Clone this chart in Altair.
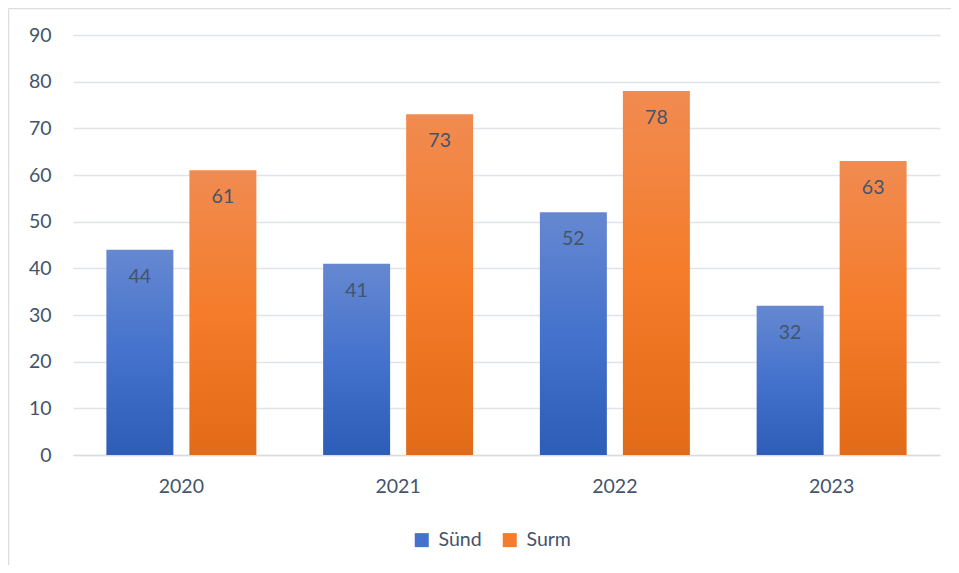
import altair as alt
import pandas as pd

years = ["2020", "2021", "2022", "2023"]
series = ["Sünd", "Surm"]
sund = [44, 41, 52, 32]
surm = [61, 73, 78, 63]
y_ticks = [0, 10, 20, 30, 40, 50, 60, 70, 80, 90]

rows = []
for i, yr in enumerate(years):
    rows.append({"year": yr, "series": "Sünd", "value": sund[i]})
    rows.append({"year": yr, "series": "Surm", "value": surm[i]})
df = pd.DataFrame(rows)

FONT = "Lato"
TXT = "#44546A"
FS = 19.5

blue_grad = alt.Gradient(
    gradient="linear", x1=0, y1=0, x2=0, y2=1,
    stops=[alt.GradientStop(offset=0, color="#6688D1"),
           alt.GradientStop(offset=0.5, color="#4472CC"),
           alt.GradientStop(offset=1, color="#2D5DB8")])
orange_grad = alt.Gradient(
    gradient="linear", x1=0, y1=0, x2=0, y2=1,
    stops=[alt.GradientStop(offset=0, color="#F18B51"),
           alt.GradientStop(offset=0.5, color="#F47C2A"),
           alt.GradientStop(offset=1, color="#E26B17")])

x_enc = alt.X("year:N", sort=years, title=None,
              scale=alt.Scale(paddingInner=0.308, paddingOuter=0.154),
              axis=alt.Axis(labelAngle=0, ticks=False, domain=True,
                            domainColor="#D9DDE3", domainWidth=1.5,
                            labelPadding=22, labelFontSize=FS,
                            labelFont=FONT, labelColor=TXT))
xoff_enc = alt.XOffset("series:N", sort=series,
                       scale=alt.Scale(paddingInner=0.193, paddingOuter=0))
y_enc = alt.Y("value:Q", title=None,
              scale=alt.Scale(domain=[0, 90], nice=False),
              axis=alt.Axis(values=y_ticks, ticks=False, domain=False,
                            grid=True, gridColor="#E0E3E8", gridWidth=1.5,
                            labelPadding=22, labelFontSize=FS,
                            labelFont=FONT, labelColor=TXT))

base = alt.Chart(df)

bars = base.mark_bar().encode(
    x=x_enc, xOffset=xoff_enc, y=y_enc,
    fill=alt.condition(alt.datum.series == "Sünd",
                       alt.value(blue_grad), alt.value(orange_grad)),
)

legend_layer = base.mark_point(filled=True, opacity=0, size=1).encode(
    x=alt.X("year:N", sort=years),
    xOffset=alt.XOffset("series:N", sort=series),
    y=alt.Y("value:Q"),
    color=alt.Color("series:N", sort=series,
                    scale=alt.Scale(domain=series, range=["#4472CC", "#F47C2A"]),
                    legend=alt.Legend(title=None, orient="none",
                                      legendX=339, legendY=495,
                                      direction="horizontal",
                                      symbolType="square", symbolSize=196,
                                      symbolOpacity=1, symbolStrokeWidth=0,
                                      labelFontSize=FS, labelFont=FONT,
                                      labelColor=TXT, labelOffset=7,
                                      columnPadding=18, padding=0)),
)

labels = base.mark_text(baseline="middle", dy=27, fontSize=FS,
                        font=FONT, color=TXT).encode(
    x=alt.X("year:N", sort=years),
    xOffset=alt.XOffset("series:N", sort=series),
    y=alt.Y("value:Q"),
    text=alt.Text("value:Q"),
)

one = alt.Chart(pd.DataFrame({"a": [0]}))
left_border = one.mark_rule(color="#DADDE2", strokeWidth=1.5).encode(
    x=alt.value(-64.5), y=alt.value(-26.5), y2=alt.value(535))
top_border = one.mark_rule(color="#DADDE2", strokeWidth=1.5).encode(
    x=alt.value(-64.5), x2=alt.value(900), y=alt.value(-26.5))

chart = alt.layer(bars, labels, legend_layer, left_border, top_border).properties(
    width=867, height=420,
    autosize=alt.AutoSizeParams(type="none"),
    padding={"left": 65, "top": 27, "right": 11, "bottom": 110},
).configure_view(stroke=None, fill="white")

chart.save("out.html", embed_options={"renderer": "svg", "actions": False})
